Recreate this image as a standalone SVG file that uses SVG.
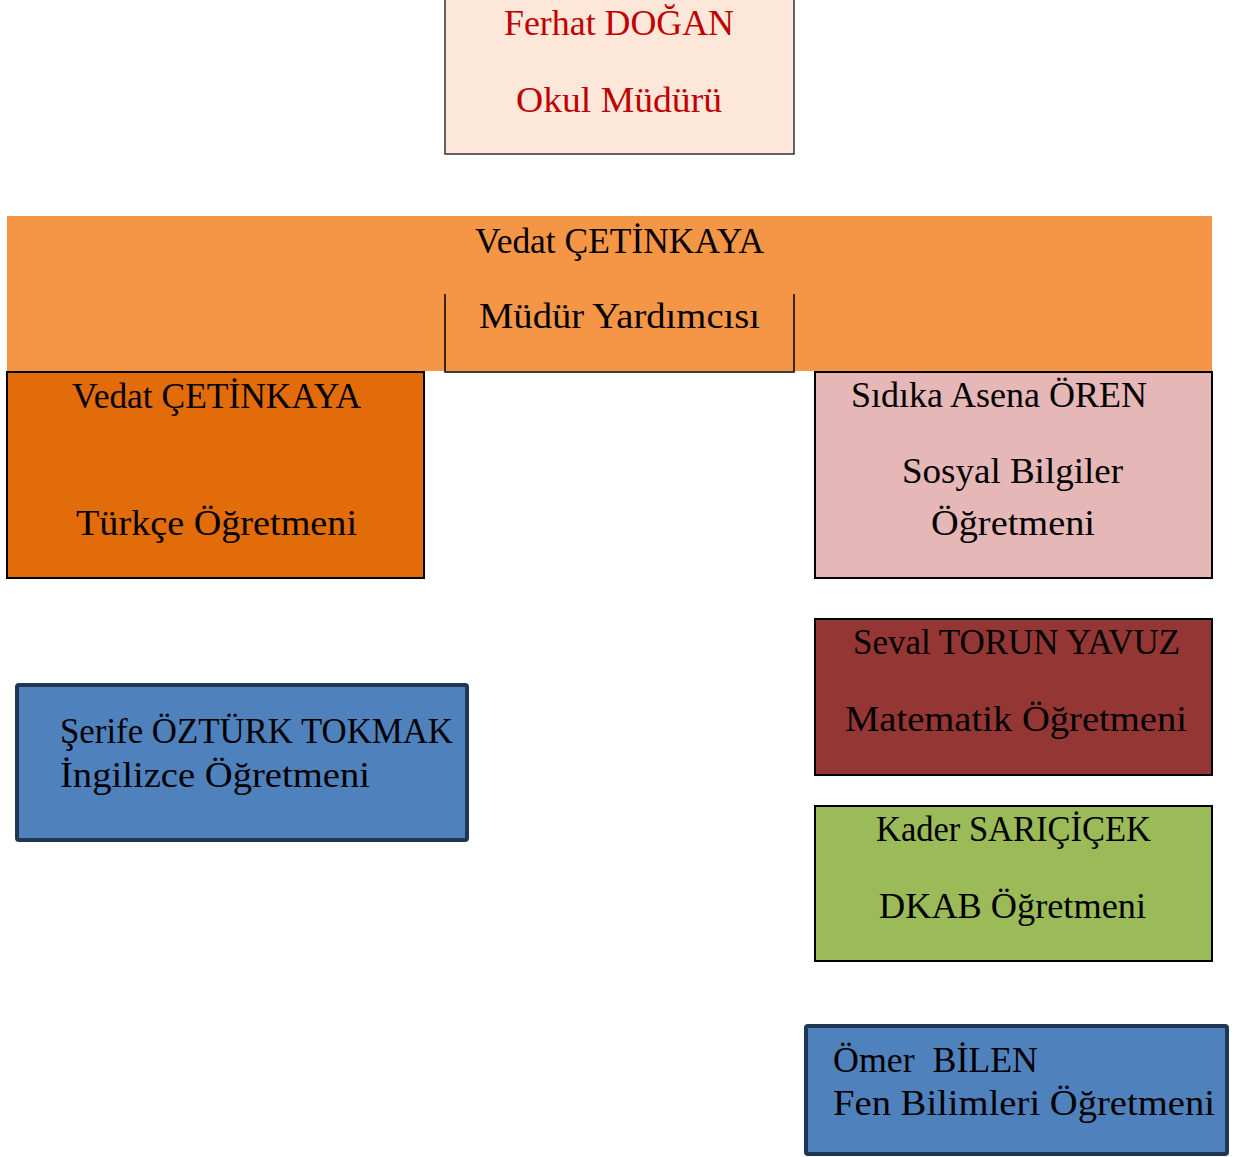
<svg xmlns="http://www.w3.org/2000/svg" width="1247" height="1157" viewBox="0 0 1247 1157">
<style>
text{font-family:"Liberation Serif","DejaVu Serif",serif;font-size:35px;fill:#000}
.red{fill:#C00000}
.box{stroke:#000;stroke-width:2}
.blue{fill:#4F81BD;stroke:#1F3654;stroke-width:4}
</style>
<rect width="1247" height="1157" fill="#fff"/>
<g id="mudur">
<rect x="445" y="-10" width="349" height="164" fill="#FCE7D8" stroke="#333" stroke-width="1.5"/>
<text class="red" x="504" y="35" textLength="230" lengthAdjust="spacingAndGlyphs">Ferhat DOĞAN</text>
<text class="red" x="516" y="112" textLength="206" lengthAdjust="spacingAndGlyphs">Okul Müdürü</text>
</g>
<g id="mudur-yardimcisi">
<rect x="7" y="216" width="1205" height="155" fill="#F59647"/>
<path d="M445 294V372H794V294" fill="none" stroke="#000" stroke-width="1.5"/>
<text x="475" y="253" font-size="37" textLength="289" lengthAdjust="spacingAndGlyphs">Vedat ÇETİNKAYA</text>
<text x="479" y="328" font-size="37" textLength="281" lengthAdjust="spacingAndGlyphs">Müdür Yardımcısı</text>
</g>
<g id="turkce">
<rect class="box" x="7" y="372" width="417" height="206" fill="#E26B0A"/>
<text x="72" y="408" textLength="289" lengthAdjust="spacingAndGlyphs">Vedat ÇETİNKAYA</text>
<text x="76" y="535" textLength="281" lengthAdjust="spacingAndGlyphs">Türkçe Öğretmeni</text>
</g>
<g id="sosyal">
<rect class="box" x="815" y="372" width="397" height="206" fill="#E5B7B6"/>
<text x="851" y="407" textLength="296" lengthAdjust="spacingAndGlyphs">Sıdıka Asena ÖREN</text>
<text x="902" y="483" textLength="221" lengthAdjust="spacingAndGlyphs">Sosyal Bilgiler</text>
<text x="931" y="535" textLength="164" lengthAdjust="spacingAndGlyphs">Öğretmeni</text>
</g>
<g id="matematik">
<rect class="box" x="815" y="619" width="397" height="156" fill="#943634"/>
<text x="853" y="654" textLength="327" lengthAdjust="spacingAndGlyphs">Seval TORUN YAVUZ</text>
<text x="845" y="731" textLength="342" lengthAdjust="spacingAndGlyphs">Matematik Öğretmeni</text>
</g>
<g id="dkab">
<rect class="box" x="815" y="806" width="397" height="155" fill="#9BBB59"/>
<text x="876" y="841" textLength="275" lengthAdjust="spacingAndGlyphs">Kader SARIÇİÇEK</text>
<text x="879" y="918" textLength="267" lengthAdjust="spacingAndGlyphs">DKAB Öğretmeni</text>
</g>
<g id="ingilizce">
<rect class="blue" x="17" y="685" width="450" height="155" rx="2"/>
<text x="60" y="743" textLength="393" lengthAdjust="spacingAndGlyphs">Şerife ÖZTÜRK TOKMAK</text>
<text x="60" y="787" textLength="310" lengthAdjust="spacingAndGlyphs">İngilizce Öğretmeni</text>
</g>
<g id="fen">
<rect class="blue" x="806" y="1026" width="421" height="128" rx="2"/>
<text x="833" y="1072" textLength="205" lengthAdjust="spacingAndGlyphs" xml:space="preserve">Ömer  BİLEN</text>
<text x="833" y="1115" textLength="382" lengthAdjust="spacingAndGlyphs">Fen Bilimleri Öğretmeni</text>
</g>
<g id="connectors"/>
</svg>
